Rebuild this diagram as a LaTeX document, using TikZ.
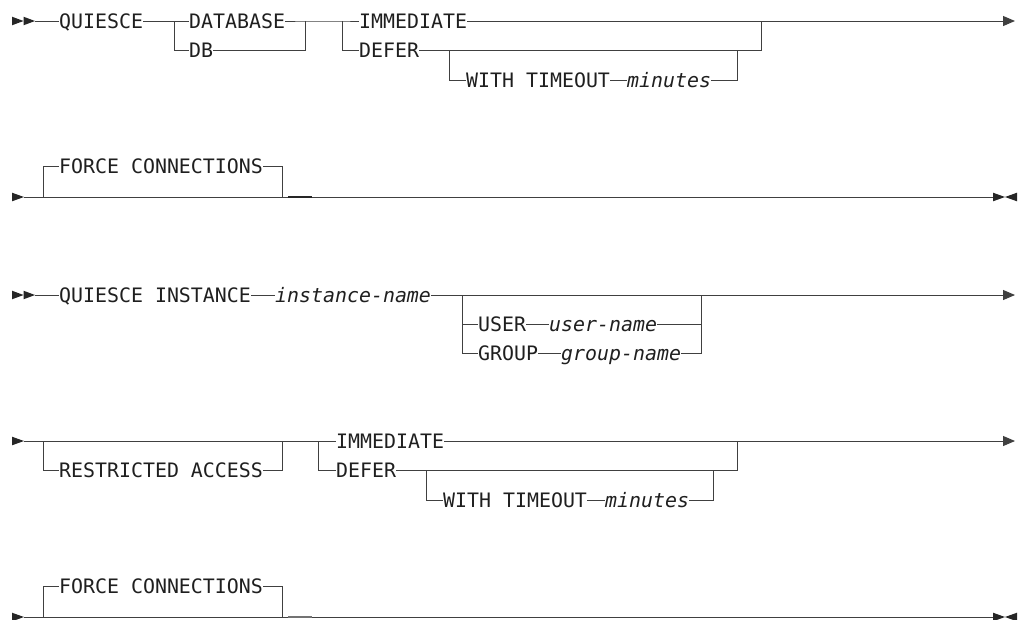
\documentclass[tikz,border=0pt]{standalone}
\usepackage{fontspec}
\setmonofont{DejaVu Sans Mono}
\usetikzlibrary{arrows.meta}
\newcommand\trR[3]{\fill[tri] (#1,#2-4.3) -- (#1+#3,#2) -- (#1,#2+4.3) -- cycle;}
\newcommand\trL[3]{\fill[tri] (#1,#2-4.3) -- (#1-#3,#2) -- (#1,#2+4.3) -- cycle;}
\begin{document}
\begin{tikzpicture}[x=1pt,y=-1pt,
  kw/.style={anchor=west,inner xsep=0pt,inner ysep=0pt,text height=14.4pt,text depth=0pt,
    font=\ttfamily\fontsize{19.9}{24}\selectfont,text=black!88},
  var/.style={kw,font=\ttfamily\itshape\fontsize{19.9}{24}\selectfont},
  ln/.style={line width=1pt,draw=black!75},
  arr/.style={ln,-{Triangle[length=12pt,width=10pt]}},
  tri/.style={fill=black!85},
  dflt/.style={line width=2.2pt,draw=black!85}]
\useasboundingbox (0,0) rectangle (1019,619);

% ---------- Row 1 ----------
\trR{12}{21}{11.5}
\trR{23.5}{21}{11.5}
\coordinate (st1) at (35,21);
\node[kw] (q1) at (59,21) {QUIESCE};
\node[kw] (db1) at (189,21) {DATABASE};
\node[kw] (db2) at (189,50) {DB};
\node[kw] (imm1) at (359,21) {IMMEDIATE};
\node[kw] (def1) at (359,50) {DEFER};
\node[kw] (wt1) at (466,80) {WITH TIMEOUT};
\node[var] (min1) at (627,80) {minutes};
\coordinate (a1) at (174,21);
\coordinate (b1) at (305,21);
\coordinate (c1) at (342,21);
\coordinate (d1) at (449,50);
\coordinate (e1) at (737,50);
\coordinate (f1) at (761,21);
\coordinate (end1) at (1015,21);
\draw[ln] (st1) -- (q1.west);
\draw[ln] (q1.east) -- (db1.west);
\draw[ln] (a1) |- (db2.west);
\draw[ln] (db1.east) -- (b1) -- (c1) -- (imm1.west);
\draw[ln] (db2.east) -| (b1);
\draw[ln] (c1) |- (def1.west);
\draw[ln] (imm1.east) -- (f1);
\draw[arr] (f1) -- (end1);
\draw[ln] (def1.east) -| (f1);
\draw[ln] (d1) |- (wt1.west);
\draw[ln] (wt1.east) -- (min1.west);
\draw[ln] (min1.east) -| (e1);

% ---------- Row 2 ----------
\trR{12}{197}{12}
\coordinate (s2) at (24,197);
\coordinate (l2) at (43,197);
\coordinate (r2) at (282,197);
\coordinate (u2a) at (288,197);
\coordinate (u2b) at (312,197);
\coordinate (e2) at (993,197);
\node[kw] (fc2) at (59,166) {FORCE CONNECTIONS};
\draw[ln] (s2) -- (e2);
\draw[ln] (l2) |- (fc2.west);
\draw[ln] (fc2.east) -| (r2);
\draw[dflt] (u2a) -- (u2b);
\trR{993}{197}{12}
\trL{1017}{197}{12}

% ---------- Row 3 ----------
\trR{12}{295}{11.5}
\trR{23.5}{295}{11.5}
\coordinate (st3) at (35,295);
\node[kw] (qi) at (59,295) {QUIESCE INSTANCE};
\node[var] (in) at (275,295) {instance-name};
\node[kw] (usr) at (478,324) {USER};
\node[var] (un) at (549,324) {user-name};
\node[kw] (grp) at (478,353) {GROUP};
\node[var] (gn) at (561,353) {group-name};
\coordinate (l3) at (462,295);
\coordinate (r3) at (701,295);
\coordinate (end3) at (1015,295);
\draw[ln] (st3) -- (qi.west);
\draw[ln] (qi.east) -- (in.west);
\draw[arr] (in.east) -- (end3);
\draw[ln] (l3) |- (usr.west);
\draw[ln] (l3) |- (grp.west);
\draw[ln] (usr.east) -- (un.west);
\draw[ln] (un.east) -| (r3);
\draw[ln] (grp.east) -- (gn.west);
\draw[ln] (gn.east) -| (r3);

% ---------- Row 4 ----------
\trR{12}{441}{12}
\coordinate (s4) at (24,441);
\coordinate (l4) at (43,441);
\coordinate (r4) at (282,441);
\coordinate (c4) at (318,441);
\coordinate (d4) at (426,470);
\coordinate (e4) at (713,470);
\coordinate (f4) at (737,441);
\coordinate (end4) at (1015,441);
\node[kw] (ra) at (59,470) {RESTRICTED ACCESS};
\node[kw] (imm4) at (336,441) {IMMEDIATE};
\node[kw] (def4) at (336,470) {DEFER};
\node[kw] (wt4) at (443,500) {WITH TIMEOUT};
\node[var] (min4) at (605,500) {minutes};
\draw[ln] (s4) -- (imm4.west);
\draw[ln] (l4) |- (ra.west);
\draw[ln] (ra.east) -| (r4);
\draw[ln] (c4) |- (def4.west);
\draw[arr] (imm4.east) -- (end4);
\draw[ln] (def4.east) -| (f4);
\draw[ln] (d4) |- (wt4.west);
\draw[ln] (wt4.east) -- (min4.west);
\draw[ln] (min4.east) -| (e4);

% ---------- Row 5 ----------
\trR{12}{617}{12}
\coordinate (s5) at (24,617);
\coordinate (l5) at (43,617);
\coordinate (r5) at (282,617);
\coordinate (u5a) at (288,617);
\coordinate (u5b) at (312,617);
\coordinate (e5) at (993,617);
\node[kw] (fc5) at (59,586) {FORCE CONNECTIONS};
\draw[ln] (s5) -- (e5);
\draw[ln] (l5) |- (fc5.west);
\draw[ln] (fc5.east) -| (r5);
\draw[dflt,draw=black!55] (u5a) -- (u5b);
\trR{993}{617}{12}
\trL{1017}{617}{12}
\end{tikzpicture}
\end{document}
